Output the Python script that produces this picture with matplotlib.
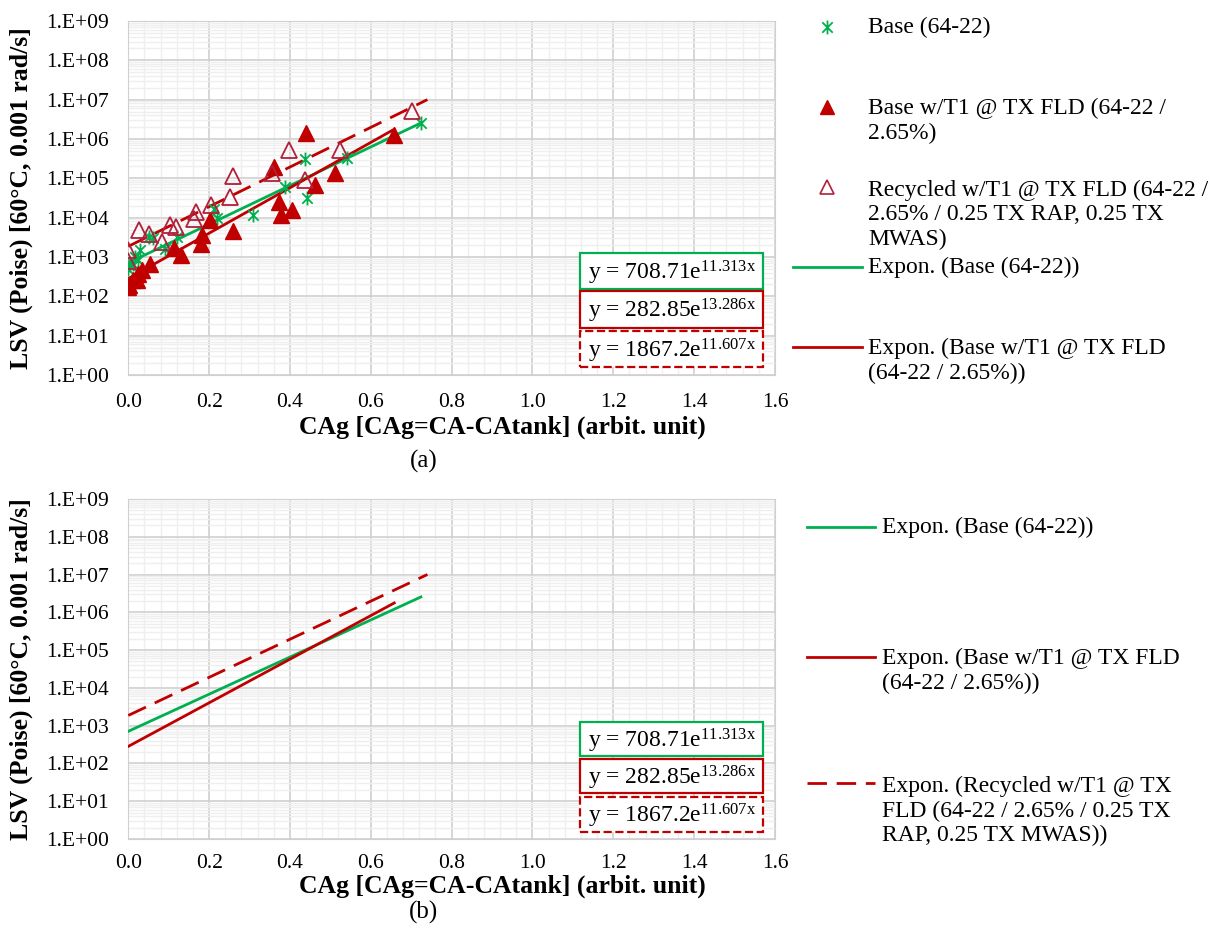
import numpy as np
import matplotlib
matplotlib.use('Agg')
import matplotlib.pyplot as plt
from matplotlib.path import Path
from matplotlib.lines import Line2D
from matplotlib.patches import Rectangle
from matplotlib.ticker import MultipleLocator, FixedLocator, NullFormatter

plt.rcParams['font.family'] = ['Liberation Serif', 'DejaVu Serif']
plt.rcParams['mathtext.fontset'] = 'custom'
plt.rcParams['mathtext.rm'] = 'Liberation Serif'
plt.rcParams['mathtext.it'] = 'Liberation Serif'

# ---- data ----------------------------------------------------------------
base_x = [0.0, 0.005, 0.012, 0.017, 0.025, 0.029, 0.052, 0.061, 0.091, 0.12,
          0.183, 0.211, 0.219, 0.309, 0.387, 0.438, 0.441, 0.54, 0.724]
base_y = [510, 620, 680, 1000, 830, 1550, 3200, 3000, 1630, 3200,
          2200, 17000, 10000, 11500, 60000, 310000, 32000, 320000, 2.5e6]

t1_x = [0.0, 0.002, 0.012, 0.021, 0.024, 0.034, 0.053, 0.112, 0.131, 0.181,
        0.182, 0.203, 0.26, 0.361, 0.372, 0.377, 0.404, 0.44, 0.463, 0.511, 0.658]
t1_y = [173, 195, 255, 255, 380, 460, 680, 1700, 1100, 2100,
        3600, 8500, 4600, 195000, 25000, 11500, 15500, 1.44e6, 66000, 135000, 1.25e6]

rec_x = [0.0, 0.0, 0.027, 0.052, 0.083, 0.103, 0.118, 0.163, 0.168, 0.205,
         0.252, 0.259, 0.356, 0.397, 0.436, 0.525, 0.701]
rec_y = [1550, 790, 5000, 3800, 2400, 6400, 5800, 9000, 14000, 21000,
         34000, 113000, 137000, 540000, 89000, 540000, 5.2e6]

fit_a = [708.71, 282.85, 1867.2]
fit_b = [11.313, 13.286, 11.607]
fit_xmax = [0.724, 0.658, 0.74]

point_labels = ['Base (64-22)',
                'Base w/T1 @ TX FLD (64-22 /\n2.65%)',
                'Recycled w/T1 @ TX FLD (64-22 /\n2.65% / 0.25 TX RAP, 0.25 TX\nMWAS)']
fit_labels_a = ['Expon. (Base (64-22))',
                'Expon. (Base w/T1 @ TX FLD\n(64-22 / 2.65%))']
fit_labels_b = ['Expon. (Base (64-22))',
                'Expon. (Base w/T1 @ TX FLD\n(64-22 / 2.65%))',
                'Expon. (Recycled w/T1 @ TX\nFLD (64-22 / 2.65% / 0.25 TX\nRAP, 0.25 TX MWAS))']

decades = list(range(0, 10))
xticks = [0.0, 0.2, 0.4, 0.6, 0.8, 1.0, 1.2, 1.4, 1.6]

green = '#00B050'
red = '#C00000'
fit_colors = [green, red, red]
fit_dash = [None, None, (7, 3.5)]

star = Path([(0, -1), (0, 1), (-0.75, -0.75), (0.75, 0.75), (-0.75, 0.75), (0.75, -0.75)],
            [Path.MOVETO, Path.LINETO] * 3)

W, H = 1218, 934
fig = plt.figure(figsize=(W / 100, H / 100), dpi=100)


def px(x, y):
    return x / W, 1 - y / H


def setup_axes(ax, xpad):
    ax.set_xlim(0, 1.6)
    ax.set_yscale('log')
    ax.set_ylim(1, 1e9)
    ax.set_xticks(xticks)
    ax.set_xticklabels(['%.1f' % v for v in xticks])
    ax.xaxis.set_minor_locator(MultipleLocator(0.04))
    ax.set_yticks([10.0 ** k for k in decades])
    ax.set_yticklabels(['1.E+%02d' % k for k in decades])
    ax.yaxis.set_minor_locator(FixedLocator([m * 10.0 ** k for k in decades[:-1] for m in range(2, 10)]))
    ax.yaxis.set_minor_formatter(NullFormatter())
    ax.tick_params(which='both', length=0, labelsize=15.5)
    ax.tick_params(axis='y', pad=14)
    ax.tick_params(axis='x', pad=xpad)
    ax.grid(which='major', color='#D0D0D0', lw=1.2)
    ax.grid(which='minor', color='#EFEFEF', lw=1.0)
    ax.set_axisbelow(True)
    for s in ax.spines.values():
        s.set_color('#D0D0D0')
    ax.set_xlabel('CAg [CAg=CA-CAtank] (arbit. unit)', fontsize=18.5, fontweight='bold')
    ax.xaxis.label.set_va('center')
    ax.set_ylabel('LSV (Poise) [60°C, 0.001 rad/s]', fontsize=18.5, fontweight='bold')
    ax.yaxis.label.set_va('center')
    ax.yaxis.set_label_coords(-0.165, 0.5)


def draw_fits(ax):
    for a, b, xm, c, d in zip(fit_a, fit_b, fit_xmax, fit_colors, fit_dash):
        xs = np.linspace(0, xm, 100)
        ln, = ax.plot(xs, a * np.exp(b * xs), color=c, lw=2, zorder=4)
        if d:
            ln.set_dashes(d)


def draw_boxes(ax):
    ys = [0.243, 0.134, 0.022]
    for a, b, y0, c, d in zip(fit_a, fit_b, ys, fit_colors, fit_dash):
        r = Rectangle((0.698, y0), 0.283, 0.102, transform=ax.transAxes,
                      fc='white', ec=c, lw=1.6, ls='--' if d else '-', zorder=6, clip_on=False)
        ax.add_patch(r)
        ax.text(0.711, y0 + 0.046, r'y = %ge$^{\mathregular{%sx}}$' % (a, b), transform=ax.transAxes,
                fontsize=17, va='center', ha='left', zorder=7)


# ---- panel (a) ------------------------------------------------------------
ax1 = fig.add_axes([128.3 / W, 1 - 375 / H, 646.7 / W, 354 / H])
setup_axes(ax1, 13)
ax1.xaxis.set_label_coords(0.579, -0.148)
ax1.plot(base_x, base_y, ls='none', marker=star, ms=10, mfc='none', mec=green, mew=1.3, zorder=5)
ax1.plot(t1_x, t1_y, ls='none', marker='^', ms=11, mfc=red, mec=red, zorder=5)
ax1.plot(rec_x, rec_y, ls='none', marker='^', ms=11, mfc='none', mec='#B0203A', mew=1.3, zorder=5)
draw_fits(ax1)
draw_boxes(ax1)

# ---- panel (b) ------------------------------------------------------------
ax2 = fig.add_axes([128.3 / W, 1 - 839 / H, 646.7 / W, 340 / H])
setup_axes(ax2, 11)
ax2.xaxis.set_label_coords(0.579, -0.14)
draw_fits(ax2)
draw_boxes(ax2)

fig.text(*px(424, 461), '(a)', fontsize=18, ha='center', va='center')
fig.text(*px(424, 912), '(b)', fontsize=18, ha='center', va='center')

# ---- legends (drawn by hand, handle aligned to first text line) -----------
lab_fs = 17
leg_pts = [(star, 'none', green, 1.3), ('^', red, red, 1), ('^', 'none', '#B0203A', 1.2)]
for (m, fc, ec, mew), lab, y in zip(leg_pts, point_labels, [27, 107, 187]):
    fig.add_artist(Line2D([827 / W], [1 - y / H], transform=fig.transFigure, ls='none',
                          marker=m, ms=10, mfc=fc, mec=ec, mew=mew))
    n = lab.count('\n')
    fig.text(*px(868, y + n * 14), lab, fontsize=lab_fs, va='center', ha='left')

for lab, y, c, d in zip(fit_labels_a, [267, 347], fit_colors, fit_dash):
    fig.add_artist(Line2D([793 / W, 862 / W], [1 - y / H] * 2, transform=fig.transFigure, color=c, lw=2))
    n = lab.count('\n')
    fig.text(*px(868, y + n * 14), lab, fontsize=lab_fs, va='center', ha='left')

for lab, y, c, d in zip(fit_labels_b, [527, 657, 783], fit_colors, fit_dash):
    ln = Line2D([807 / W, 875 / W], [1 - y / H] * 2, transform=fig.transFigure, color=c, lw=2)
    if d:
        ln.set_dashes(d)
    fig.add_artist(ln)
    n = lab.count('\n')
    fig.text(*px(882, y + n * 14), lab, fontsize=lab_fs, va='center', ha='left')

fig.savefig('out.png', dpi=100, facecolor='white')
